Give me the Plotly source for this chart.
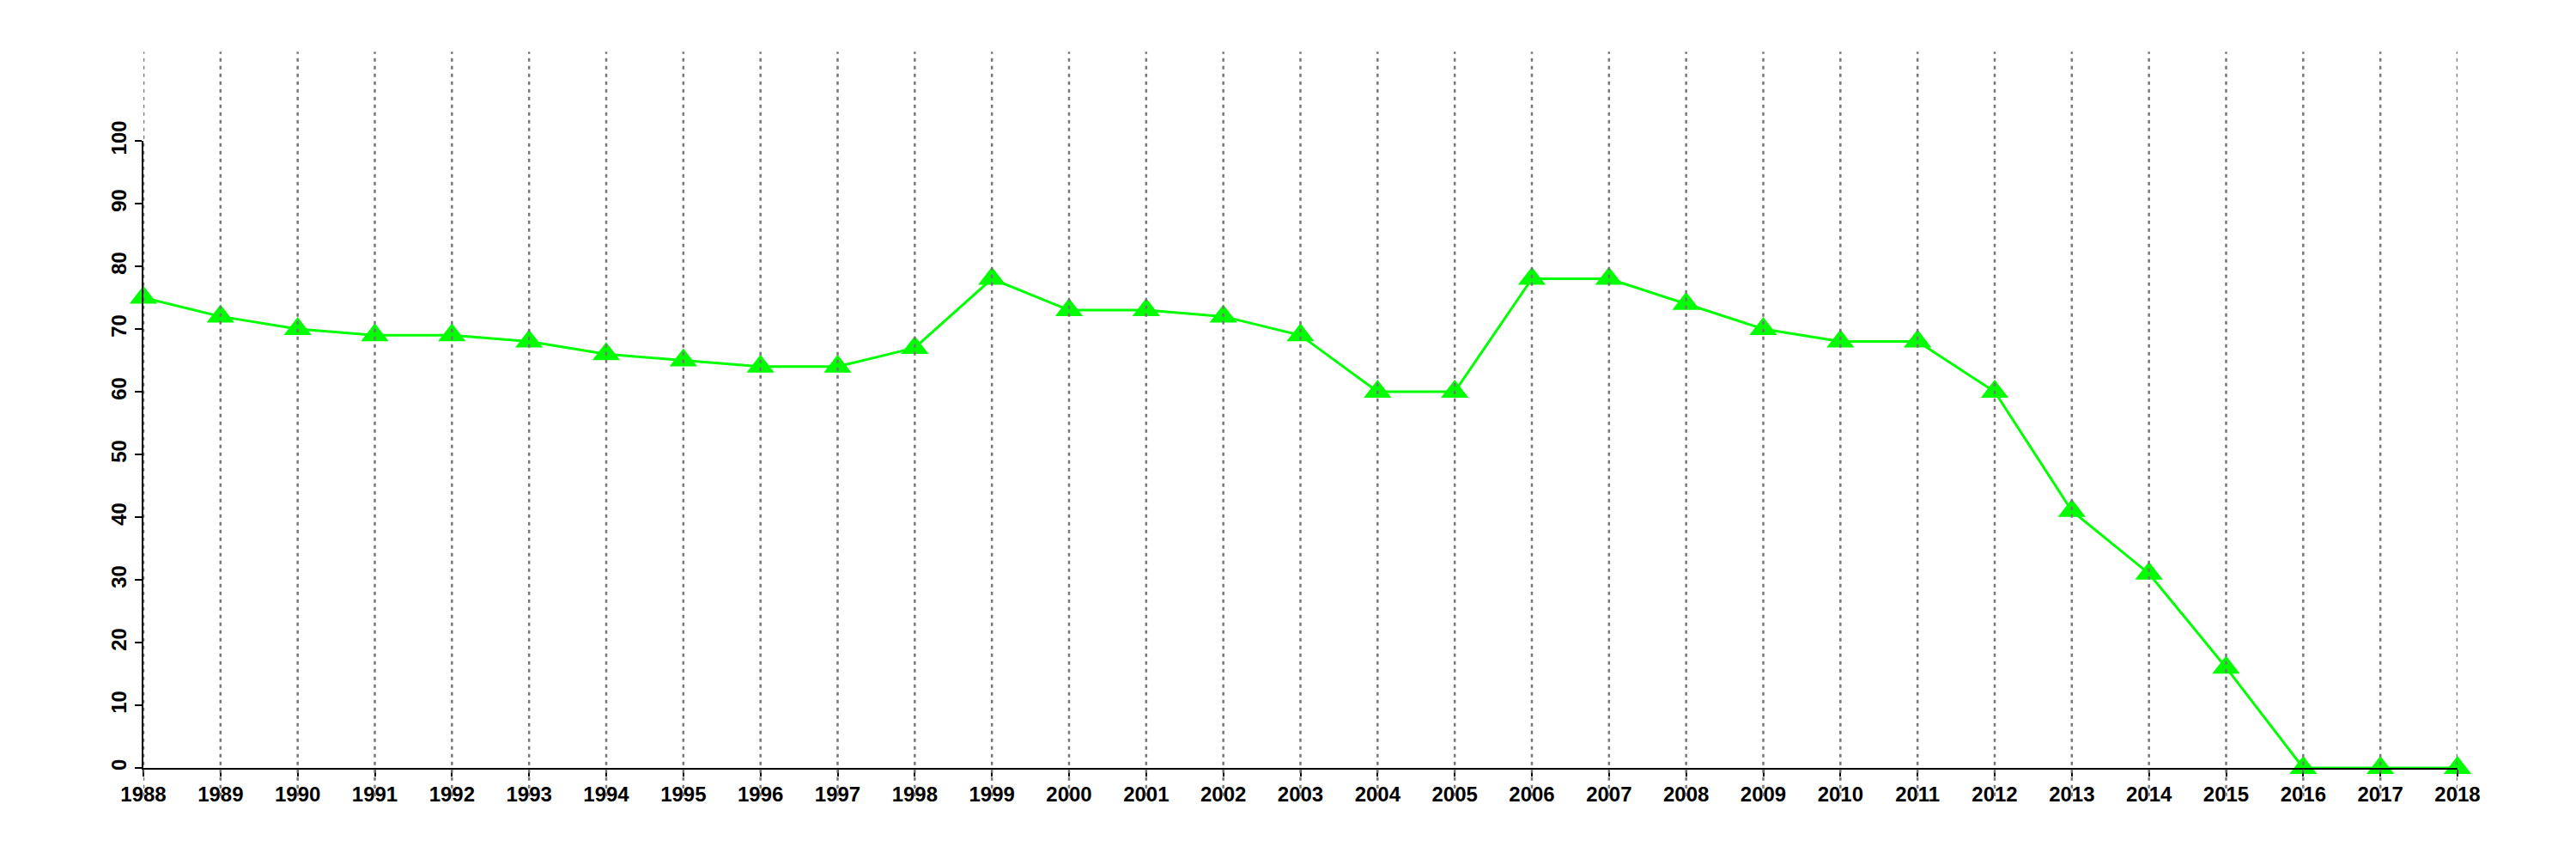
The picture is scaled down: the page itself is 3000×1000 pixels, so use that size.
import plotly.graph_objects as go

years = list(range(1988, 2019))
values = [75, 72, 70, 69, 69, 68, 66, 65, 64, 64, 67, 78, 73, 73, 72, 69, 60, 60,
          78, 78, 74, 70, 68, 68, 60, 41, 31, 16, 0, 0, 0]
y_ticks = list(range(0, 101, 10))

fig = go.Figure()
fig.add_trace(go.Scatter(
    x=years, y=values, mode="lines+markers",
    line=dict(color="#00ff00", width=3),
    marker=dict(symbol="triangle-up", size=28, color="#00ff00", line=dict(width=0)),
    cliponaxis=False, showlegend=False,
))

for yr in years:
    fig.add_shape(type="line", xref="x", yref="paper", x0=yr, x1=yr, y0=-0.045, y1=1.142,
                  line=dict(color="#777777", width=2.5, dash="4px,5px"), layer="above")

font = dict(family="Liberation Sans, Arial, sans-serif", size=24, color="black", weight="bold")
fig.update_layout(
    width=3000, height=1000,
    margin=dict(l=159, r=146, t=156, b=114),
    plot_bgcolor="white", paper_bgcolor="white",
    xaxis=dict(range=[1988, 2018], tickmode="array", tickvals=years, ticktext=[str(y) for y in years],
               showgrid=False, zeroline=False, showline=True, linecolor="black", linewidth=2,
               ticks="outside", ticklen=8, tickwidth=2, tickcolor="black", tickfont=font, tickangle=0),
    yaxis=dict(range=[0, 100], tickmode="array", tickvals=y_ticks, ticktext=[str(v) for v in y_ticks],
               showgrid=False, zeroline=False, showline=True, linecolor="black", linewidth=2,
               ticks="outside", ticklen=8, tickwidth=2, tickcolor="black", tickfont=font, tickangle=-90),
)
fig.write_html("out.html")
